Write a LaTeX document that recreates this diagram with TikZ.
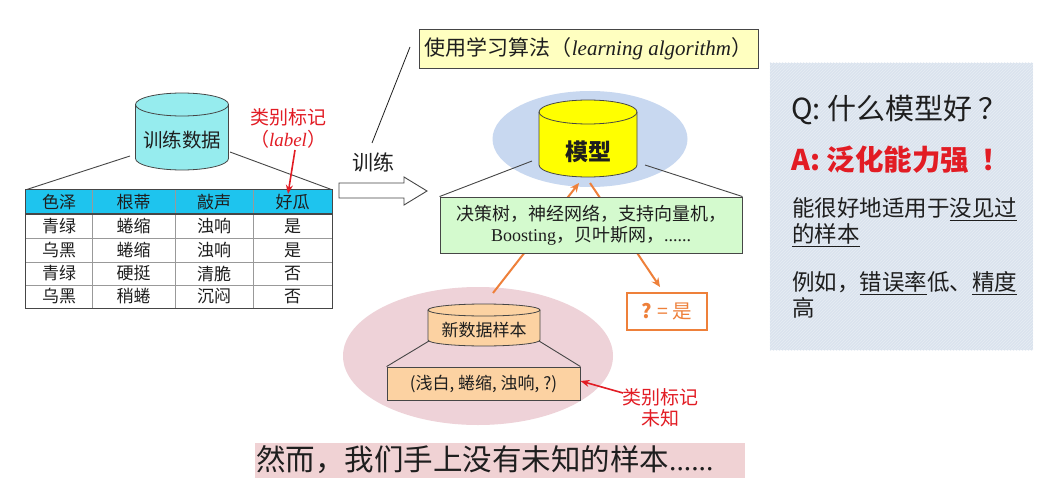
\documentclass[tikz,border=0pt]{standalone}
\usepackage{fontspec}
\setmainfont{Noto Sans CJK SC}
\newfontfamily\latinserif{Liberation Serif}
\usetikzlibrary{arrows.meta,shapes.geometric,patterns}

\definecolor{drumcyan}{RGB}{150,236,238}
\definecolor{headcyan}{RGB}{30,196,238}
\definecolor{algoyellow}{RGB}{255,255,192}
\definecolor{haloblue}{RGB}{200,216,240}
\definecolor{modelyellow}{RGB}{255,255,0}
\definecolor{listgreen}{RGB}{212,250,206}
\definecolor{flow}{RGB}{238,128,58}
\definecolor{halopink}{RGB}{238,210,216}
\definecolor{sampleorange}{RGB}{252,210,162}
\definecolor{alert}{RGB}{226,28,36}
\definecolor{panelblue}{RGB}{218,227,238}
\definecolor{bandpink}{RGB}{240,210,212}
\definecolor{ink}{RGB}{30,30,30}
\definecolor{edge}{RGB}{70,70,70}

% drum: fill, centre x, top y, bottom y, x radius, y radius, border colour
\newcommand\drumpath[7]{%
  \filldraw[fill=#1,draw=#7,line width=0.8pt]
    (#2-#5,#4-#6) -- (#2-#5,#3+#6)
    arc[start angle=180,end angle=0,x radius=#5pt,y radius=#6pt]
    -- (#2+#5,#4-#6)
    arc[start angle=0,end angle=-180,x radius=#5pt,y radius=#6pt] -- cycle;
  \draw[draw=#7,line width=0.8pt] (#2-#5,#3+#6)
    arc[start angle=180,end angle=360,x radius=#5pt,y radius=#6pt];
}

\tikzset{
  cell/.style={font=\fontsize{17}{17}\selectfont,text=ink,inner sep=0pt},
  tie/.style={draw=edge,line width=0.9pt},
  flowarrow/.style={draw=flow,line width=2pt,-{Stealth[length=9pt,width=8pt]}},
  alertarrow/.style={draw=alert,line width=1.6pt,-{Stealth[length=9pt,width=7pt]}},
  alerttext/.style={text=alert,font=\fontsize{19}{21}\selectfont,inner sep=0pt,align=center},
  panelline/.style={anchor=west,inner sep=0pt,text=ink,font=\fontsize{22.5}{22.5}\selectfont},
}

\begin{document}
\begin{tikzpicture}[x=1pt,y=-1pt]
\fill[white] (0,0) rectangle (1048,497);
\useasboundingbox (0,0) rectangle (1048,497);

% ---------------- training data ----------------
\node[minimum width=306pt,minimum height=118pt,inner sep=0pt] (tbl) at (179,249) {};
\coordinate (tdL) at (130,156);
\coordinate (tdR) at (230,152);
\draw[tie] (tdL) -- (tbl.north west);
\draw[tie] (tdR) -- (tbl.north east);
\drumpath{drumcyan}{182}{93}{170}{46.5}{11.5}{edge}
\node[font=\fontsize{19.5}{19.5}\selectfont,text=ink] (td) at (182,140) {训练数据};

% table body
\fill[headcyan] (26,190) rectangle (332,214);
\draw[draw=gray!80,line width=0.7pt]
  (26,238) -- (332,238) (26,262) -- (332,262) (26,285) -- (332,285)
  (92,190) -- (92,308) (175,190) -- (175,308) (253,190) -- (253,308);
\draw[draw=edge,line width=1.3pt] (26,214) -- (332,214);
\draw[draw=edge,line width=0.9pt] (tbl.north west) rectangle (tbl.south east);

\foreach \x/\a/\b/\c/\d/\e in {
  59/色泽/青绿/乌黑/青绿/乌黑,
  133.5/根蒂/蜷缩/蜷缩/硬挺/稍蜷,
  214/敲声/浊响/浊响/清脆/沉闷,
  292.5/好瓜/是/是/否/否}{
  \node[cell] at (\x,202) {\a};
  \node[cell] at (\x,226) {\b};
  \node[cell] at (\x,250) {\c};
  \node[cell] at (\x,273.5) {\d};
  \node[cell] at (\x,296.5) {\e};
}
\node[cell] (goodhead) at (288,202) {\phantom{好瓜}};

% class label annotation
\node[alerttext] (lab1) at (288,117) {类别标记};
\node[alerttext] (lab2) at (288,139) {（{\latinserif\itshape label}）};
\coordinate (labTail) at (295,150);
\draw[alertarrow] (labTail) -- (goodhead.north);

% ---------------- training step ----------------
\node[font=\fontsize{21}{21}\selectfont,text=ink] (train) at (373,162) {训练};
\draw[draw=edge,line width=0.9pt,fill=white]
  (339,183) -- (404,183) -- (404,177) -- (427,191) -- (404,205) -- (404,198) -- (339,198) -- cycle;

\node[draw=edge,line width=0.9pt,fill=algoyellow,minimum width=339pt,minimum height=39pt,
      inner sep=0pt,font=\fontsize{21}{21}\selectfont,text=ink] (algo) at (588.5,48.5)
  {使用学习算法（{\latinserif\itshape learning algorithm}）};
\coordinate (algoA) at (372,143);
\coordinate (algoB) at (410,47);
\draw[draw=ink,line width=0.8pt] (algoA) -- (algoB);

% ---------------- model ----------------
\node[ellipse,fill=haloblue,minimum width=195pt,minimum height=96pt] (halo) at (590,139) {};
\node[ellipse,fill=halopink,minimum width=270pt,minimum height=138pt] (pinkhalo) at (478,356) {};

\node[draw=flow,line width=1.3pt,fill=white,minimum width=80pt,minimum height=37pt,
      inner sep=0pt,text=flow,font=\fontsize{19.5}{19.5}\selectfont] (ans) at (667,311.5) {\textbf{?} = 是};
\coordinate (upTail) at (493,293);
\coordinate (upTip) at (579,183);
\coordinate (downTail) at (590,183);
\coordinate (downTip) at (660,287);
\draw[flowarrow] (upTail) -- (upTip);
\draw[flowarrow] (downTail) -- (downTip);

\node[draw=edge,line width=0.9pt,fill=listgreen,minimum width=302pt,minimum height=56pt,
      inner sep=0pt,align=center,text=ink,font=\fontsize{18}{21}\selectfont] (algs) at (591,225)
  {决策树，神经网络，支持向量机，\\{\latinserif Boosting}，贝叶斯网，{\latinserif ......}};
\coordinate (mL) at (532,161);
\coordinate (mR) at (645,165);
\draw[tie] (mL) -- (algs.north west);
\draw[tie] (mR) -- (algs.north east);
\drumpath{modelyellow}{588}{100}{177}{49}{12}{edge}
\node[font=\bfseries\fontsize{23}{23}\selectfont,text=ink] (model) at (588,152) {模型};

% ---------------- new sample ----------------
\node[draw=edge,line width=0.9pt,fill=sampleorange,minimum width=193pt,minimum height=33pt,
      inner sep=0pt,text=ink,font=\fontsize{17}{17}\selectfont] (sample) at (483.5,383.5)
  {(浅白, 蜷缩, 浊响, ?)};
\coordinate (nL) at (429,341);
\coordinate (nR) at (539,341);
\draw[tie] (nL) -- (sample.north west);
\draw[tie] (nR) -- (sample.north east);
\drumpath{sampleorange}{484}{304}{346}{56}{6}{edge}
\node[font=\fontsize{17}{17}\selectfont,text=ink] (newdata) at (484,330) {新数据样本};

\node[alerttext] (unk) at (660,408) {类别标记\\未知};
\coordinate (unkTail) at (623,393);
\draw[alertarrow] (unkTail) -- (sample.east |- 0,381);

% ---------------- answer panel ----------------
\node[fill=panelblue,minimum width=263pt,minimum height=287pt,inner sep=0pt] (panel) at (901.5,206.5) {};
\fill[pattern=north east lines,pattern color=white!35!panelblue] (panel.north west) rectangle (panel.south east);
\node[panelline,font=\fontsize{29}{29}\selectfont] (q) at (791,110) {Q: 什么模型好 ？};
\node[panelline,font=\bfseries\fontsize{28.5}{28.5}\selectfont,text=alert] (a) at (791,160) {A: 泛化能力强\hspace{12pt}！};
\node[panelline] (l1) at (792,209) {能很好地适用于\underline{没见过}};
\node[panelline] (l2) at (792,235) {\underline{的样本}};
\node[panelline] (l3) at (792,283) {例如，\underline{错误率}低、\underline{精度}};
\node[panelline] (l4) at (792,308) {高};

% ---------------- closing remark ----------------
\node[fill=bandpink,minimum width=490pt,minimum height=35pt,inner sep=0pt] (band) at (500,460.5) {};
\node[anchor=west,inner sep=0pt,text=ink,font=\fontsize{29.5}{29.5}\selectfont] (remark) at (256,460)
  {然而，我们手上没有未知的样本{\latinserif ......}};
\end{tikzpicture}
\end{document}
